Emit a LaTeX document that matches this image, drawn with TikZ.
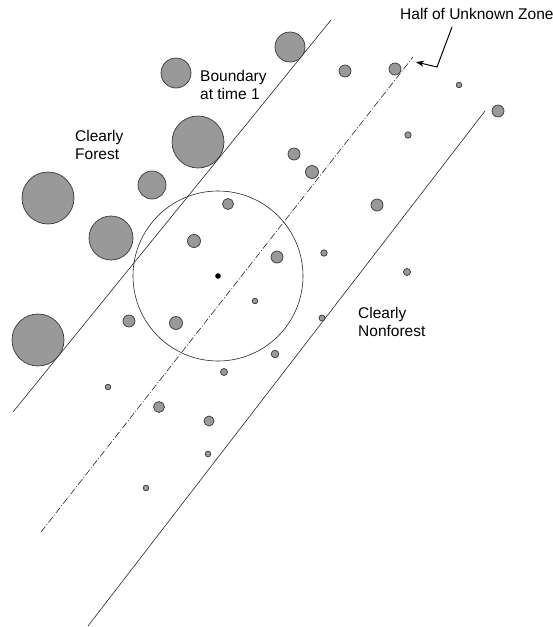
\documentclass[tikz,border=0pt]{standalone}
\usepackage{fontspec}
\setmainfont{Liberation Sans}
\usetikzlibrary{arrows.meta}
\begin{document}
\begin{tikzpicture}[x=1pt,y=-1pt,
  tree/.style={fill=black!40,draw=black!78,line width=0.7pt},
  bnd/.style={line width=0.6pt,draw=black!85},
  mid/.style={line width=0.6pt,draw=black!85,dash pattern=on 7pt off 2pt on 1pt off 2pt},
  lbl/.style={inner sep=0pt,anchor=base west,font=\fontsize{15.5}{18}\selectfont}]
\useasboundingbox (0,0) rectangle (553,627);
% boundary lines
\coordinate (l1a) at (13,412); \coordinate (l1b) at (331,20);
\coordinate (l2a) at (41,532); \coordinate (l2b) at (413,57);
\coordinate (l3a) at (88,626); \coordinate (l3b) at (485,111);
\draw[bnd] (l1a) -- (l1b);
\draw[mid] (l2a) -- (l2b);
\draw[bnd] (l3a) -- (l3b);
% sample circle
\draw[line width=0.6pt,draw=black!85] (218,276) circle (85);
\fill (218,276) circle (2.8);
% large trees
\foreach \x/\y/\r in {290/47/15, 176/73/15, 198/142/26, 152/185/14, 48/198/26, 111/238/22, 38/340/26}
  \draw[tree] (\x,\y) circle (\r);
% small trees
\foreach \x/\y/\r in {345/71/6, 395/69/6, 459/85/2.8, 498/111/6, 408/135/3.2, 294/154/6, 312/172/6.5,
  377/205/6, 228/204/5.5, 194/241/6.5, 277/257/6, 324/253/3.2, 407/272/3.5, 255/301/2.8,
  129/321/6, 176/323/6.5, 322/318/3, 275/354/3.8, 224/372/3.5, 108/387/2.8, 159/407/5.5,
  209/421/5, 208/454/2.8, 146/488/2.8}
  \draw[tree] (\x,\y) circle (\r);
% labels
\node[lbl] (hz) at (400,19) {Half of Unknown Zone};
\node[lbl] (bt) at (200,81) {\begin{tabular}[t]{@{}l@{}}Boundary\\at time 1\end{tabular}};
\node[lbl] (cf) at (75,141) {\begin{tabular}[t]{@{}l@{}}Clearly\\Forest\end{tabular}};
\node[lbl] (cn) at (358,318) {\begin{tabular}[t]{@{}l@{}}Clearly\\Nonforest\end{tabular}};
% arrow
\coordinate (a0) at (452,27);
\coordinate (a1) at (437,67);
\coordinate (a2) at (416,62);
\draw[line width=1pt,-{Stealth[length=8pt,width=6pt]}] (a0) -- (a1) -- (a2);
\end{tikzpicture}
\end{document}
